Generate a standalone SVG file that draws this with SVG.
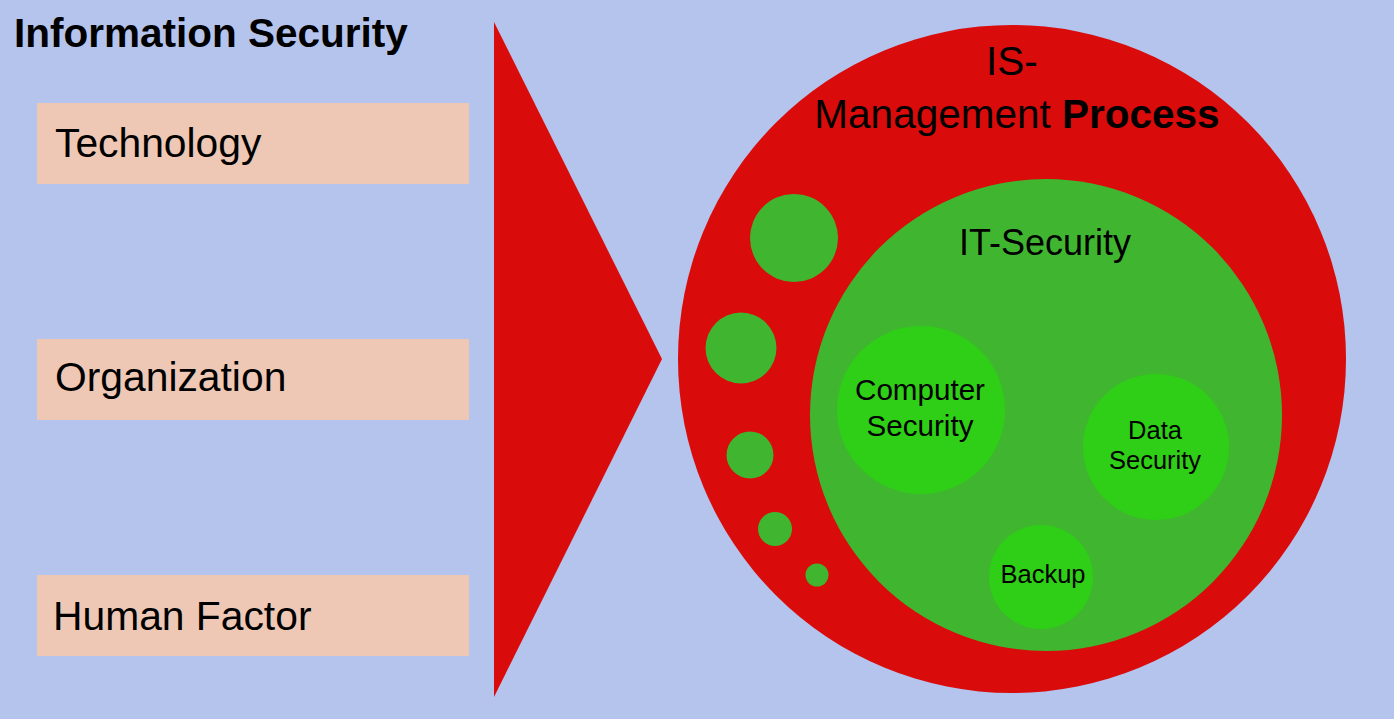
<svg xmlns="http://www.w3.org/2000/svg" width="1394" height="719" viewBox="0 0 1394 719">
<style>
.t{font-family:"Liberation Sans",Arial,sans-serif;fill:#000}
.box{fill:#eec8b4}
.red{fill:#d90b0b}
.g{fill:#40b530}
.bg{fill:#2ecf16}
</style>
<rect width="1394" height="719" fill="#b4c4ec"/>
<text class="t" x="14" y="47" font-size="40.5" font-weight="bold">Information Security</text>
<g id="technology">
<rect class="box" x="37" y="103" width="432" height="81"/>
<text class="t" x="55" y="157" font-size="40.8">Technology</text>
</g>
<g id="organization">
<rect class="box" x="37" y="339" width="432" height="81"/>
<text class="t" x="55" y="391" font-size="40.8">Organization</text>
</g>
<g id="human-factor">
<rect class="box" x="37" y="575" width="432" height="81"/>
<text class="t" x="53" y="630" font-size="40.8">Human Factor</text>
</g>
<g id="connectors">
<polygon class="red" points="494,22 662,359 494,697"/>
</g>
<g id="is-management">
<circle class="red" cx="1012" cy="359" r="334"/>
<text class="t" x="1012" y="75" font-size="40.5" text-anchor="middle">IS-</text>
<text class="t" x="1017" y="128" font-size="40.5" text-anchor="middle">Management <tspan font-weight="bold">Process</tspan></text>
</g>
<g id="small-circles">
<circle class="g" cx="794" cy="238" r="44"/>
<circle class="g" cx="741" cy="348" r="35.5"/>
<circle class="g" cx="750" cy="455" r="23.5"/>
<circle class="g" cx="775" cy="529" r="17"/>
<circle class="g" cx="817" cy="575" r="11.5"/>
</g>
<g id="it-security">
<circle class="g" cx="1046" cy="415" r="236"/>
<text class="t" x="1045" y="255" font-size="36" text-anchor="middle">IT-Security</text>
</g>
<g id="computer-security">
<circle class="bg" cx="921" cy="410" r="84"/>
<text class="t" x="920" y="400" font-size="29.6" text-anchor="middle">Computer</text>
<text class="t" x="920" y="436" font-size="29.6" text-anchor="middle">Security</text>
</g>
<g id="data-security">
<circle class="bg" cx="1156" cy="447" r="73"/>
<text class="t" x="1155" y="439" font-size="25.5" text-anchor="middle">Data</text>
<text class="t" x="1155" y="469" font-size="25.5" text-anchor="middle">Security</text>
</g>
<g id="backup">
<circle class="bg" cx="1041" cy="577" r="52"/>
<text class="t" x="1043" y="583" font-size="25.5" text-anchor="middle">Backup</text>
</g>
</svg>
